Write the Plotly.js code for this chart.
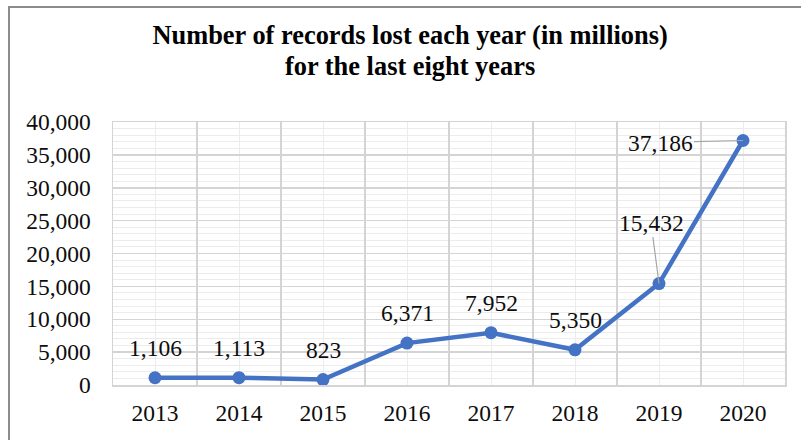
<!DOCTYPE html>
<html>
<head>
<meta charset="utf-8">
<script src="https://cdn.plot.ly/plotly-3.0.1.min.js"></script>
<style>
html, body { margin: 0; padding: 0; background: #ffffff; }
#chart { width: 801px; height: 440px; }
</style>
</head>
<body>
<div id="chart"></div>
<script>
const years = ['2013', '2014', '2015', '2016', '2017', '2018', '2019', '2020'];
const records = [1106, 1113, 823, 6371, 7952, 5350, 15432, 37186];
const titleLines = ['Number of records lost each year (in millions)', 'for the last eight years'];

const idx = years.map((_, i) => i);
const boundaries = [];
for (let i = 0; i <= years.length; i++) boundaries.push(i - 0.5);

const FONT = 'Liberation Serif, Times New Roman, serif';
const TXT = '#0d0d0d';
const L = 113, R = 16, T = 122, B = 55, W = 801, H = 440;
const pw = W - L - R, ph = H - T - B;

const trace = {
  x: idx,
  y: records,
  xaxis: 'x',
  yaxis: 'y',
  type: 'scatter',
  mode: 'lines+markers',
  line: { color: '#4472C4', width: 4.5 },
  marker: { color: '#4472C4', size: 13 },
  hoverinfo: 'skip'
};

// label offsets (pixels) for the leader-line labels
const labelOffsets = { 6: [-8, -61], 7: [-83, 2] };
const annotations = records.map((v, i) => {
  const txt = v.toLocaleString('en-US');
  if (labelOffsets[i]) {
    return {
      x: idx[i], y: v, xref: 'x', yref: 'y', text: txt,
      showarrow: true, arrowhead: 0, arrowwidth: 1.2, arrowcolor: '#a6a6a6',
      ax: labelOffsets[i][0], ay: labelOffsets[i][1],
      font: { family: FONT, size: 23.5, color: TXT }
    };
  }
  return {
    x: idx[i], y: v, xref: 'x', yref: 'y', text: txt,
    showarrow: false, yshift: 30,
    font: { family: FONT, size: 23.5, color: TXT }
  };
});

const titleText = titleLines.map(s => '<span style="font-size:26.4px">' + s + '</span>').join('<br>');

const layout = {
  width: W, height: H,
  margin: { l: L, r: R, t: T, b: B, pad: 0 },
  paper_bgcolor: '#ffffff',
  plot_bgcolor: '#ffffff',
  showlegend: false,
  font: { family: FONT, size: 23.5, color: TXT },
  title: {
    text: titleText,
    font: { family: FONT, size: 24, color: '#000000', weight: 'bold' },
    x: 0.512, xanchor: 'center',
    y: 1 - 44 / H, yref: 'container', yanchor: 'top'
  },
  xaxis: {
    range: [-0.5, years.length - 0.5],
    tickmode: 'array', tickvals: boundaries, showticklabels: false,
    showgrid: true, gridcolor: '#d4d4d4', gridwidth: 1.5,
    minor: { tickmode: 'array', tickvals: idx, showgrid: true, gridcolor: '#ececec', gridwidth: 1, ticks: '' },
    showline: true, linecolor: '#d4d4d4', linewidth: 1.5, mirror: true,
    zeroline: false, ticks: '',
    fixedrange: true
  },
  xaxis2: {
    overlaying: 'x', anchor: 'y', side: 'bottom',
    range: [-0.5, years.length - 0.5],
    tickmode: 'array', tickvals: idx, ticktext: years,
    showgrid: false, zeroline: false, showline: false, ticks: '',
    ticklabelstandoff: 11,
    tickfont: { family: FONT, size: 23.5, color: TXT },
    fixedrange: true
  },
  yaxis: {
    range: [0, 40000],
    tickmode: 'linear', tick0: 0, dtick: 5000, tickformat: ',d',
    showgrid: true, gridcolor: '#d4d4d4', gridwidth: 1.5,
    minor: { dtick: 1000, showgrid: true, gridcolor: '#ececec', gridwidth: 1, ticks: '' },
    showline: true, linecolor: '#d4d4d4', linewidth: 1.5, mirror: true,
    zeroline: false, ticks: '', ticklabelstandoff: 16,
    tickfont: { family: FONT, size: 23.5, color: TXT },
    fixedrange: true
  },
  annotations: annotations,
  shapes: [{
    type: 'rect', xref: 'paper', yref: 'paper', layer: 'above',
    x0: (9 - L) / pw, x1: (W + 20 - L) / pw,
    y0: -(B + 20) / ph, y1: (H - B - 7) / ph,
    line: { color: '#8c8c8c', width: 2 }, fillcolor: 'rgba(0,0,0,0)'
  }]
};

// invisible trace that carries the year labels on xaxis2
const axisTrace = {
  x: idx, y: records, xaxis: 'x2', yaxis: 'y', type: 'scatter', mode: 'none',
  hoverinfo: 'skip', showlegend: false
};

Plotly.newPlot('chart', [axisTrace, trace], layout, { displayModeBar: false, staticPlot: true });
</script>
</body>
</html>
